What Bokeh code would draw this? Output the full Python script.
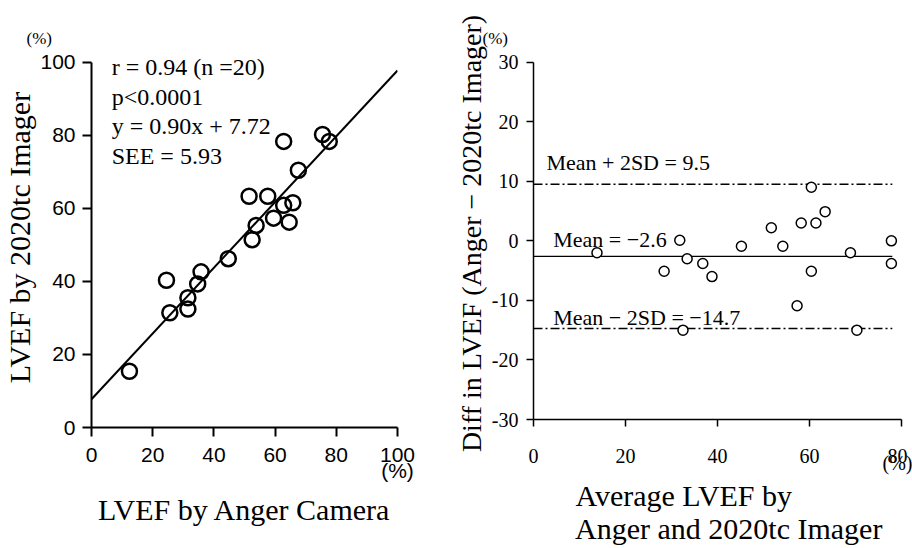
from bokeh.plotting import figure
from bokeh.models import Label
from bokeh.layouts import row, column
from bokeh.embed import file_html
from bokeh.resources import INLINE

# ---- data: left panel (correlation) ----
anger_lvef = [12.4, 24.5, 25.6, 31.5, 31.5, 34.7, 35.8, 44.7, 51.5, 52.5,
              53.8, 57.6, 59.5, 62.8, 62.8, 64.6, 65.8, 67.6, 75.5, 77.7]
imager_lvef = [15.4, 40.3, 31.4, 35.5, 32.4, 39.3, 42.6, 46.2, 63.3, 51.4,
               55.3, 63.3, 57.3, 78.3, 60.8, 56.2, 61.5, 70.4, 80.2, 78.3]
reg_slope = 0.90
reg_intercept = 7.72
reg_x = [0, 100]
stats_lines = ["r = 0.94 (n =20)", "p<0.0001", "y = 0.90x + 7.72", "SEE = 5.93"]
left_ticks = [0, 20, 40, 60, 80, 100]

# ---- data: right panel (Bland-Altman) ----
ba_avg = [13.8, 28.4, 31.8, 33.4, 32.5, 36.8, 38.8, 45.2, 51.7, 54.2,
          57.3, 58.2, 60.4, 60.4, 61.4, 63.4, 68.9, 70.3, 77.8, 77.8]
ba_diff = [-2.0, -5.1, 0.1, -3.0, -15.0, -3.8, -6.0, -0.9, 2.2, -0.9,
           -10.9, 3.0, 9.0, -5.1, 3.0, 4.9, -2.0, -15.0, 0.0, -3.8]
ba_mean = -2.6
ba_upper = 9.5
ba_lower = -14.7
ba_line_x = [0, 78]
right_xticks = [0, 20, 40, 60, 80]
right_yticks = [-30, -20, -10, 0, 10, 20, 30]

SERIF = "Liberation Serif"
SANS = "Liberation Sans"
NB = "\u00a0"


def style(p, font, size, lw, tick_out, xstand, ystand):
    p.outline_line_color = None
    p.xgrid.visible = False
    p.ygrid.visible = False
    for ax in (p.xaxis, p.yaxis):
        ax.axis_line_width = lw
        ax.axis_line_color = "black"
        ax.major_tick_line_width = lw
        ax.major_tick_line_color = "black"
        ax.major_tick_out = tick_out
        ax.major_tick_in = 0
        ax.minor_tick_line_color = None
        ax.major_label_text_font = font
        ax.major_label_text_font_size = size
        ax.major_label_text_color = "black"
        ax.axis_label_text_font = SERIF
        ax.axis_label_text_font_style = "normal"
        ax.axis_label_text_color = "black"
    p.xaxis.major_label_standoff = xstand
    p.yaxis.major_label_standoff = ystand
    p.title.text_font = SERIF
    p.title.text_font_style = "normal"
    p.title.text_font_size = "17px"
    p.title.text_color = "black"
    p.title.align = "left"


# ---------------- left figure ----------------
p1 = figure(width=448, height=548, x_range=(0, 100), y_range=(0, 104),
            output_backend="svg", toolbar_location=None, title="(%)",
            min_border_left=88, min_border_right=51,
            min_border_top=47, min_border_bottom=121)
style(p1, SANS, "21px", 2, 9, 6, 7)
p1.title.offset = -65
p1.title.standoff = 0
p1.xaxis.ticker = left_ticks
p1.yaxis.ticker = left_ticks
p1.yaxis.bounds = (0, 100)
p1.xaxis.major_label_overrides = {100: "100\n(%)"}
p1.xaxis.major_label_text_line_height = 0.72
p1.yaxis.axis_label = "LVEF by 2020tc Imager"
p1.yaxis.axis_label_text_font_size = "30px"
p1.yaxis.axis_label_standoff = 1
p1.xaxis.axis_label = "LVEF by Anger Camera"
p1.xaxis.axis_label_text_font_size = "30px"
p1.xaxis.axis_label_standoff = 8

reg_y = [reg_slope * x + reg_intercept for x in reg_x]
p1.line(reg_x, reg_y, line_color="black", line_width=2)
p1.scatter(anger_lvef, imager_lvef, marker="circle", size=15,
           fill_color=None, line_color="black", line_width=2.5)

for i, t in enumerate(stats_lines):
    p1.add_layout(Label(x=6.6, y=98.6 - 8.1 * i, text=t, text_font=SERIF,
                        text_font_size="24px", text_color="black",
                        text_baseline="alphabetic", text_align="left"))

# ---------------- right figure ----------------
p2 = figure(width=464, height=548, x_range=(0, 80), y_range=(-30, 32.47),
            output_backend="svg", toolbar_location=None, title="(%)",
            min_border_left=85, min_border_right=11,
            min_border_top=47, min_border_bottom=129)
style(p2, SERIF, "20px", 1.5, 7, 18, 8)
p2.title.offset = -51
p2.title.standoff = 0
p2.xaxis.ticker = right_xticks
p2.yaxis.ticker = right_yticks
p2.yaxis.bounds = (-30, 30)
p2.yaxis.major_label_overrides = {t: str(t) for t in right_yticks}
p2.xaxis.major_label_overrides = {80: "80\n(%)"}
p2.xaxis.major_label_text_line_height = 0.35
p2.yaxis.axis_label = "Diff in LVEF (Anger \u2212 2020tc Imager)"
p2.yaxis.axis_label_text_font_size = "28px"
p2.yaxis.axis_label_standoff = 2
p2.xaxis.axis_label = ("Average LVEF by" + NB * 9 + "\n" + NB * 3 +
                       "Anger and 2020tc Imager")
p2.xaxis.axis_label_text_font_size = "30px"
p2.xaxis.axis_label_text_line_height = 1.0
p2.xaxis.axis_label_standoff = 2

p2.line(ba_line_x, [ba_mean, ba_mean], line_color="black", line_width=1.2)
p2.line(ba_line_x, [ba_upper, ba_upper], line_color="black", line_width=1.5,
        line_dash="9 3 2 3")
p2.line(ba_line_x, [ba_lower, ba_lower], line_color="black", line_width=1.5,
        line_dash="9 3 2 3")
p2.scatter(ba_avg, ba_diff, marker="circle", size=10, fill_color="white",
           line_color="black", line_width=1.5)

p2.add_layout(Label(x=2.8, y=13.2, text="Mean + 2SD = 9.5", text_font=SERIF,
                    text_font_size="22px", text_color="black",
                    text_baseline="alphabetic"))
p2.add_layout(Label(x=4.3, y=0.25, text="Mean = \u22122.6", text_font=SERIF,
                    text_font_size="22px", text_color="black",
                    text_baseline="alphabetic"))
p2.add_layout(Label(x=4.3, y=-12.8, text="Mean \u2212 2SD = \u221214.7",
                    text_font=SERIF, text_font_size="22px", text_color="black",
                    text_baseline="alphabetic"))

layout = row(column(p1), column(p2))
open("out.html", "w").write(file_html(layout, INLINE))
